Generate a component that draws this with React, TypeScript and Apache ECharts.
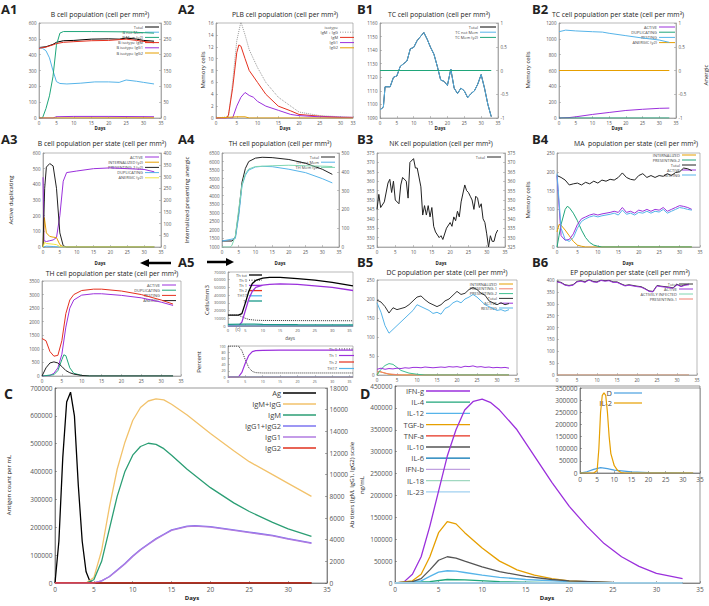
import React, { useEffect, useRef } from "react";
import * as echarts from "echarts";

type P = [number, number][];

// ---------- A1 B cell population ----------
const a1Total: P = [[0,445],[2,450],[4,465],[5,478],[7,488],[10,490],[15,498],[20,500],[23,498],[25,505],[28,498],[30,490],[33,485]];
const a1NotMem: P = [[0,445],[1,440],[2,425],[3,380],[4,300],[5,230],[6,218],[8,215],[12,220],[16,228],[20,228],[23,225],[25,240],[28,232],[30,225],[33,215]];
const a1Mem: P = [[0,0],[1,0],[2,30],[3,70],[4,130],[5,230],[6,268],[7,273],[15,273],[25,272],[33,268]];
const a1IgM: P = [[0,440],[2,448],[4,462],[5,470],[7,478],[10,482],[15,488],[20,490],[25,498],[28,490],[33,475]];
const a1IgG1: P = [[0,0],[4,0],[5,8],[10,10],[20,10],[33,8]];
const a1IgG2: P = [[0,0],[33,1]];

// ---------- A2 PLB ----------
const a2Sum: P = [[0,0],[3,0.2],[4,6],[5,13],[6,16.2],[7,14],[8,11.5],[10,8.5],[12,6],[15,3.5],[18,2],[20,1],[25,0.4],[30,0.2],[33,0.1]];
const a2IgM: P = [[0,0],[2.5,0],[3,0.5],[4,5],[5,11],[5.5,12.3],[6,12.1],[7,10],[8,8],[10,6],[12,4],[15,2],[18,1.2],[20,0.6],[25,0.3],[30,0.1],[33,0.1]];
const a2IgG1: P = [[0,0],[4,0],[5,2],[6,3.5],[7,4.3],[8,3.8],[9,3.5],[10,2.8],[12,2],[15,1.3],[18,0.6],[20,0.4],[25,0.2],[33,0.1]];
const a2IgG2: P = [[0,0],[5,0.2],[7,0.2],[8,0],[33,0]];

// ---------- B1 TC ----------
const b1Days = [0,1,1.5,3,4,5,6,7,8,9,10,11,12,13,14,15,16,17,18,19,20,21,22,23,24,25,26,27,28,29,30,31,32,33];
const b1NotMem = [1096,1098,1113,1113,1120,1121,1128,1130,1132,1141,1142,1147,1150,1153,1148,1142,1137,1128,1118,1117,1114,1126,1112,1108,1112,1110,1105,1108,1110,1115,1122,1112,1100,1091];
const b1Mem: P = [[0,0],[33,0]];

// ---------- B2 TC per state ----------
const b2Active: P = [[0,0],[3,5],[5,15],[10,45],[15,70],[20,95],[25,110],[30,122],[33,125]];
const b2Dup: P = [[0,0],[33,0]];
const b2Resting: P = [[0,1090],[2,1110],[5,1100],[10,1090],[13,1085],[15,1070],[20,1040],[25,1010],[30,985],[33,955]];
const b2Anergic: P = [[0,0],[33,0]];

// ---------- A3 B cell per state ----------
const a3Active: P = [[0,445],[0.3,40],[1,35],[2,40],[3,45],[4,60],[5,200],[6,420],[7,475],[10,485],[15,500],[20,505],[25,500],[30,495],[33,480]];
const a3Intern: P = [[0,0],[0.4,125],[1,60],[2,45],[3,42],[4,40],[5,10],[6,0],[33,0]];
const a3Present: P = [[0,0],[0.5,250],[1,340],[2,355],[3,345],[4,250],[5,60],[6,5],[7,0],[33,0]];
const a3Dup: P = [[0,0],[1,5],[3,3],[5,0],[33,0]];
const a3Anergic: P = [[0,0],[0.5,20],[1,15],[3,12],[4,10],[5,2],[6,0],[33,0]];

// ---------- A4 TH ----------
const a4Total: P = [[0,1350],[3,1350],[4,1600],[5,3000],[6,4800],[7,5600],[8,6000],[10,6200],[12,6250],[15,6230],[20,6120],[25,5900],[30,5550],[33,5250]];
const a4NotMem: P = [[0,1350],[4,1500],[5,2800],[6,4600],[7,5200],[8,5500],[10,5680],[12,5720],[15,5700],[20,5550],[25,5350],[30,5000],[33,4750]];
const a4Mem: P = [[0,0],[2.5,0],[3,10],[4,60],[5,200],[6,330],[7,390],[8,415],[10,428],[15,432],[20,435],[25,432],[30,430],[33,428]];

// ---------- B3 NK ----------
const b3Days = [0,0.5,1,2,3,3.5,4,4.5,5,6,6.5,7,8,8.5,9,10,10.5,11,12,12.5,13,13.5,14,14.5,15,15.5,16,17,17.5,18,19,20,20.5,21,21.5,22,22.5,23,24,24.5,25,25.5,26,26.5,27,27.5,28,28.5,29,29.5,30,30.5,31,31.5,32,32.5,33];
const b3Total = [345,353,346,349,359,361,354,360,350,348,358,362,360,351,370,372,367,367,357,342,347,342,347,341,346,336,333,330,331,329,335,338,336,341,339,344,341,349,358,355,354,352,350,345,352,351,346,348,340,338,332,325,331,328,328,332,334];

// ---------- B4 MA ----------
const b4Days = [0,1,2,3,4,5,6,7,8,9,10,11,12,13,14,15,16,17,18,19,20,21,22,23,24,25,26,27,28,29,30,31,32,33];
const b4Total = [190,185,178,165,168,170,165,172,168,175,170,178,175,180,178,185,197,185,180,178,190,195,185,190,185,190,188,195,190,198,200,210,208,203];
const b4Active = [190,30,18,20,35,60,75,80,85,88,85,88,90,92,95,92,105,92,95,90,98,95,100,95,100,98,105,95,100,105,110,108,105,100];
const b4Resting = [195,50,20,15,25,50,68,75,80,83,80,83,85,87,90,85,98,87,90,85,92,90,95,90,95,93,100,90,95,100,105,103,100,98];
const b4Intern: P = [[0,40],[0.5,60],[1,58],[2,45],[3,30],[4,15],[5,5],[6,2],[7,0],[33,0]];
const b4Present2: P = [[0,0],[0.5,30],[1,60],[2,100],[2.5,108],[3,105],[4,90],[5,70],[6,45],[7,25],[8,12],[9,5],[10,2],[11,0],[33,0]];

// ---------- TH per state ----------
const thResting: P = [[0,1380],[1,1300],[2,900],[3,730],[4,760],[5,1300],[6,2300],[7,2800],[8,3000],[10,3150],[13,3200],[15,3200],[20,3130],[25,3000],[30,2800],[33,2650]];
const thActive: P = [[0,0],[2,20],[3,100],[4,300],[5,800],[6,1800],[7,2500],[8,2800],[10,2980],[13,3030],[15,3030],[20,2970],[25,2880],[30,2720],[33,2600]];
const thDup: P = [[0,0],[3,50],[4,200],[5,600],[5.5,780],[6,750],[7,300],[8,100],[10,20],[12,0],[33,0]];
const thAnergic: P = [[0,0],[1,300],[2,480],[3,520],[4,480],[5,350],[6,200],[7,120],[8,70],[10,20],[12,0],[33,0]];

// ---------- A5 ----------
const a5Tot: P = [[0,14000],[3,14000],[4,16000],[5,30000],[6,45000],[7,55000],[8,59000],[10,62000],[12,63000],[15,63000],[20,61500],[25,59500],[30,56500],[36,52000]];
const a5Th0: P = [[0,14000],[3,14000],[4,12000],[5,10000],[6,8500],[8,7500],[10,7200],[20,7000],[36,6800]];
const a5Th1: P = [[0,0],[3,0],[4,5000],[5,20000],[6,35000],[7,45000],[8,50000],[10,53000],[12,54000],[15,54500],[20,54000],[25,52000],[30,50000],[36,46000]];
const a5Th2: P = [[0,0],[36,0]];
const a5Th17: P = [[0,0],[36,0]];
const a5Tr: P = [[0,2000],[5,2500],[10,2200],[20,1800],[36,1500]];
const a5PctTh0: P = [[0,100],[3,100],[4,85],[5,55],[6,30],[7,18],[8,14],[10,13],[15,13],[36,13]];
const a5PctTh1: P = [[0,0],[3,0],[4,15],[5,45],[6,70],[7,82],[8,85],[10,86],[15,87],[36,87]];
const a5PctTh2: P = [[0,0],[36,0]];
const a5PctTh17: P = [[0,0],[36,0]];

// ---------- B5 DC ----------
const b5Days = [0,1,2,3,4,5,6,7,8,9,10,11,12,13,14,15,16,17,18,19,20,21,22,23,24,25,26,27,28,29,30,31,32,33];
const b5Total = [197,192,180,163,177,172,175,178,185,195,205,208,198,190,185,180,185,195,200,210,220,212,215,225,230,225,215,210,195,190,185,190,185,188];
const b5Resting = [190,165,130,110,120,130,140,150,160,170,185,180,175,170,162,165,160,175,180,190,195,190,200,205,212,205,195,185,180,175,170,172,168,172];
const b5Active = [15,18,15,17,16,18,17,19,18,20,20,19,21,20,19,20,21,20,22,21,22,20,23,22,24,21,22,20,21,19,20,19,20,18];
const b5Present2: P = [[0,0],[1,15],[2,25],[3,30],[4,28],[5,20],[6,12],[8,5],[10,2],[12,0],[33,0]];
const b5Present1: P = [[0,10],[1,8],[2,5],[3,3],[4,2],[6,0],[33,0]];
const b5Intern: P = [[0,0],[0.5,10],[1,8],[2,5],[3,2],[4,1],[5,0],[33,0]];

// ---------- B6 EP ----------
const b6Days = [0,1,2,3,4,5,6,7,8,9,10,11,12,13,14,15,16,17,18,19,20,21,22,23,24,25,26,27,28,29,30,31,32,33];
const b6Active = [392,388,378,375,378,392,395,390,400,392,390,398,395,397,390,390,382,375,378,375,372,370,362,352,350,375,372,370,368,365,380,372,378,380];
const b6Infected: P = [[0,0],[33,0]];
const b6Present1: P = [[0,0],[33,0]];

// ---------- C antigen / antibodies ----------
const cAg: P = [[0,0],[0.5,150000],[1,450000],[1.5,650000],[2,685000],[2.5,600000],[3,350000],[3.5,150000],[4,40000],[4.5,5000],[5,0],[33,0]];
const cIgMIgG: P = [[0,0],[4,0],[5,500],[6,3000],[7,7000],[8,10500],[9,13000],[10,15000],[11,16200],[12,16800],[13,17000],[14,16900],[15,16500],[17,15500],[20,13800],[23,12200],[25,11200],[28,10000],[30,9200],[33,8000]];
const cIgM: P = [[0,0],[4,0],[5,300],[6,2000],[7,5000],[8,8000],[9,10300],[10,11800],[11,12600],[12,12900],[13,12800],[14,12400],[15,11800],[17,10500],[20,8800],[23,7400],[25,6600],[28,5600],[30,5000],[33,4300]];
const cIgG12: P = [[0,0],[5,0],[6,200],[7,600],[8,1200],[9,1800],[10,2500],[11,3100],[12,3600],[13,4100],[14,4500],[15,4900],[17,5250],[18,5300],[20,5200],[23,4900],[25,4700],[28,4400],[30,4100],[33,3700]];
const cIgG1: P = [[0,0],[5,0],[6,190],[7,580],[8,1150],[9,1750],[10,2450],[11,3050],[12,3550],[13,4050],[14,4450],[15,4850],[17,5200],[18,5250],[20,5150],[23,4850],[25,4650],[28,4350],[30,4050],[33,3650]];
const cIgG2: P = [[0,0],[33,0]];

// ---------- D cytokines ----------
const dIFNg: P = [[0,0],[1,2000],[2,20000],[3,60000],[4,130000],[5,210000],[6,290000],[7,350000],[8,395000],[9,415000],[10,420000],[11,412000],[12,395000],[14,350000],[16,290000],[18,230000],[20,175000],[22,130000],[24,90000],[26,60000],[28,38000],[30,22000],[33,10000]];
const dIL4: P = [[0,0],[4,3000],[6,8000],[8,7000],[12,3000],[20,500],[33,0]];
const dIL12: P = [[0,0],[3,5000],[4,15000],[5,25000],[6,28000],[7,27000],[8,24000],[10,18000],[12,13000],[15,8000],[20,3000],[25,1000],[33,0]];
const dTGFb: P = [[0,0],[2,5000],[3,20000],[4,60000],[5,115000],[6,140000],[7,135000],[8,115000],[10,80000],[12,50000],[14,30000],[16,18000],[18,10000],[20,5000],[25,1000],[33,0]];
const dTNFa: P = [[0,0],[33,0]];
const dIL10: P = [[0,0],[2,3000],[3,10000],[4,30000],[5,52000],[6,60000],[7,57000],[8,50000],[10,37000],[12,26000],[15,15000],[18,8000],[20,5000],[25,1500],[33,0]];
const dIL6: P = [[0,0],[33,0]];
const dIFNb: P = [[0,0],[33,0]];
const dIL18: P = [[0,0],[33,0]];
const dIL23: P = [[0,0],[33,0]];
const dInsetD: P = [[0,0],[2,5000],[4,15000],[6,22000],[8,18000],[10,12000],[15,5000],[20,2000],[33,0]];
const dInsetIL2: P = [[0,0],[4,0],[5,10000],[5.5,100000],[6,250000],[6.5,320000],[7,330000],[7.5,320000],[8,250000],[8.5,150000],[9,80000],[10,30000],[11,10000],[12,2000],[13,0],[33,0]];

const zip = (xs: number[], ys: number[]): P => xs.map((x, i) => [x, ys[i]]);

const PURPLE = "#9b30dc";
const GREEN = "#1fa67a";
const LBLUE = "#56b4e9";
const ORANGE = "#e69f00";
const YELLOW = "#f0e442";
const RED = "#e5301e";
const BLACK = "#000000";
const FF = "'Open Sans', 'Liberation Sans', sans-serif";

type S = { name: string; data: P; color: string; y2?: boolean; dash?: boolean; w?: number; hideLeg?: boolean };
type Leg = { x: number; y: number; lh: number; fs: number; len: number; head?: string };
type Panel = {
  l: number; t: number; r: number; b: number;
  x: [number, number, number]; y: [number, number, number]; y2?: [number, number, number];
  fs?: number; series: S[]; leg?: Leg; bg?: string; axisColor?: string;
};

function buildOption() {
  const grids: any[] = [], xAxes: any[] = [], yAxes: any[] = [], series: any[] = [], g: any[] = [];
  const fmt = (v: number) => String(Math.round(v * 100) / 100);

  const addPanel = (p: Panel) => {
    const gi = grids.length;
    const fs = p.fs ?? 4.5;
    const ac = p.axisColor ?? "#8a8a8a";
    grids.push({ left: p.l, top: p.t, width: p.r - p.l, height: p.b - p.t, show: true, borderColor: ac, borderWidth: 0.6, backgroundColor: p.bg ?? "transparent", containLabel: false });
    const axisCommon = {
      axisLine: { show: true, onZero: false, lineStyle: { color: ac, width: 0.6 } },
      axisTick: { show: true, inside: true, length: 2, lineStyle: { color: ac, width: 0.5 } },
      splitLine: { show: false },
      axisLabel: { fontSize: fs, color: "#555", margin: 2.5, fontFamily: FF, formatter: fmt },
    };
    xAxes.push({ gridIndex: gi, type: "value", min: p.x[0], max: p.x[1], interval: p.x[2], ...axisCommon });
    const yi = yAxes.length;
    yAxes.push({ gridIndex: gi, type: "value", position: "left", min: p.y[0], max: p.y[1], interval: p.y[2], ...axisCommon });
    let y2i = yi;
    if (p.y2) {
      y2i = yAxes.length;
      yAxes.push({ gridIndex: gi, type: "value", position: "right", min: p.y2[0], max: p.y2[1], interval: p.y2[2], ...axisCommon });
    }
    p.series.forEach((s) => {
      series.push({
        type: "line", name: s.name, xAxisIndex: gi, yAxisIndex: s.y2 ? y2i : yi, data: s.data,
        showSymbol: false, symbol: "none", silent: true,
        lineStyle: { color: s.color, width: s.w ?? 1, type: s.dash ? "dotted" : "solid" },
        itemStyle: { color: s.color },
      });
    });
    if (p.leg) {
      const L = p.leg;
      let row = 0;
      if (L.head) {
        g.push({ type: "text", x: L.x, y: L.y, style: { text: L.head, fontSize: L.fs, fill: "#444", fontFamily: FF, align: "right", verticalAlign: "middle", textAlign: "right", textVerticalAlign: "middle" } });
        row = 1;
      }
      p.series.filter((s) => !s.hideLeg).forEach((s) => {
        const y = L.y + row * L.lh;
        row++;
        g.push({ type: "text", x: L.x, y, style: { text: s.name, fontSize: L.fs, fill: "#444", fontFamily: FF, align: "right", verticalAlign: "middle", textAlign: "right", textVerticalAlign: "middle" } });
        g.push({ type: "line", shape: { x1: L.x + 2, y1: y, x2: L.x + 2 + L.len, y2: y }, style: { stroke: s.color, lineWidth: s.w ?? 1, lineDash: s.dash ? [1, 1.5] : null } });
      });
    }
  };

  const text = (x: number, y: number, t: string, fs: number, opts: any = {}) => {
    g.push({
      type: "text", x, y, rotation: opts.rot ?? 0,
      style: { text: t, fontSize: fs, fill: opts.fill ?? "#222", fontWeight: opts.bold ? "bold" : "normal", fontFamily: opts.ff ?? FF,
        align: opts.align ?? "center", verticalAlign: "middle", textAlign: opts.align ?? "center", textVerticalAlign: "middle" },
    });
  };

  // Row 1
  addPanel({ l: 39, t: 23, r: 161, b: 118, x: [0, 35, 5], y: [0, 600, 100], y2: [0, 300, 50], series: [
    { name: "Total", data: a1Total, color: BLACK },
    { name: "B not Mem", data: a1NotMem, color: LBLUE },
    { name: "B Mem (y2)", data: a1Mem, color: GREEN, y2: true },
    { name: "B isotype IgM", data: a1IgM, color: RED },
    { name: "B isotype IgG1", data: a1IgG1, color: PURPLE },
    { name: "B isotype IgG2", data: a1IgG2, color: ORANGE },
  ], leg: { x: 143, y: 27, lh: 5.2, fs: 4, len: 14 } });
  addPanel({ l: 216, t: 23, r: 353, b: 118, x: [0, 33, 5], y: [0, 16, 2], series: [
    { name: "IgM + IgG", data: a2Sum, color: "#999", dash: true },
    { name: "IgM", data: a2IgM, color: RED },
    { name: "IgG1", data: a2IgG1, color: PURPLE },
    { name: "IgG2", data: a2IgG2, color: ORANGE },
  ], leg: { x: 338, y: 27, lh: 5.2, fs: 4, len: 14, head: "isotype" } });
  addPanel({ l: 380, t: 23, r: 498, b: 118, x: [0, 35, 5], y: [1090, 1160, 10], y2: [-1, 1, 0.5], series: [
    { name: "Total", data: zip(b1Days, b1NotMem), color: BLACK },
    { name: "TC not Mem", data: zip(b1Days, b1NotMem), color: LBLUE },
    { name: "TC Mem (y2)", data: b1Mem, color: GREEN, y2: true },
  ], leg: { x: 478, y: 27, lh: 5.2, fs: 4, len: 16 } });
  addPanel({ l: 559, t: 23, r: 676, b: 118, x: [0, 35, 5], y: [0, 1200, 200], y2: [-1, 1, 0.5], series: [
    { name: "ACTIVE", data: b2Active, color: PURPLE },
    { name: "DUPLICATING", data: b2Dup, color: GREEN },
    { name: "RESTING", data: b2Resting, color: LBLUE },
    { name: "ANERGIC (y2)", data: b2Anergic, color: ORANGE, y2: true },
  ], leg: { x: 657, y: 27, lh: 5.2, fs: 4, len: 16 } });

  // Row 2
  addPanel({ l: 43, t: 153, r: 161, b: 247, x: [0, 35, 5], y: [0, 600, 100], y2: [0, 400, 50], series: [
    { name: "ACTIVE", data: a3Active, color: PURPLE },
    { name: "INTERNALIZED (y2)", data: a3Intern, color: ORANGE, y2: true },
    { name: "PRESENTING-2 (y2)", data: a3Present, color: "#222", y2: true },
    { name: "DUPLICATING", data: a3Dup, color: LBLUE },
    { name: "ANERGIC (y2)", data: a3Anergic, color: YELLOW, y2: true },
  ], leg: { x: 143, y: 157, lh: 5.2, fs: 4, len: 14 } });
  addPanel({ l: 222, t: 153, r: 339, b: 247, x: [0, 35, 5], y: [1000, 6500, 500], y2: [0, 500, 100], series: [
    { name: "Total", data: a4Total, color: "#222" },
    { name: "TH not Mem", data: a4NotMem, color: LBLUE },
    { name: "TH Mem (y2)", data: a4Mem, color: "#7fd6b0", y2: true },
  ], leg: { x: 319, y: 157, lh: 5.2, fs: 4, len: 14 } });
  addPanel({ l: 377, t: 153, r: 505, b: 247, x: [0, 35, 5], y: [325, 375, 5], y2: [325, 375, 5], series: [
    { name: "Total", data: zip(b3Days, b3Total), color: "#222" },
  ], leg: { x: 485, y: 157, lh: 5.2, fs: 4, len: 14 } });
  addPanel({ l: 557, t: 153, r: 700, b: 247, x: [0, 35, 5], y: [0, 250, 50], series: [
    { name: "INTERNALIZED", data: b4Intern, color: ORANGE },
    { name: "PRESENTING-2", data: b4Present2, color: GREEN },
    { name: "Total", data: zip(b4Days, b4Total), color: "#222" },
    { name: "ACTIVE", data: zip(b4Days, b4Active), color: PURPLE },
    { name: "RESTING", data: zip(b4Days, b4Resting), color: LBLUE },
  ], leg: { x: 680, y: 155, lh: 5, fs: 4, len: 14 } });

  // Row 3
  addPanel({ l: 42, t: 281, r: 181, b: 376, x: [0, 35, 5], y: [0, 3500, 500], series: [
    { name: "ACTIVE", data: thActive, color: PURPLE },
    { name: "DUPLICATING", data: thDup, color: GREEN },
    { name: "RESTING", data: thResting, color: RED },
    { name: "ANERGIC", data: thAnergic, color: "#222" },
  ], leg: { x: 160, y: 285, lh: 5.2, fs: 4, len: 14 } });
  addPanel({ l: 228, t: 272, r: 353, b: 326, x: [0, 36, 5], y: [0, 70000, 10000], fs: 4, series: [
    { name: "Th tot", data: a5Tot, color: BLACK, w: 1.3 },
    { name: "Th 0", data: a5Th0, color: "#333", dash: true },
    { name: "Th 1", data: a5Th1, color: PURPLE, w: 1.3 },
    { name: "Th 2", data: a5Th2, color: RED, w: 1.3 },
    { name: "TH17", data: a5Th17, color: LBLUE, w: 1.3 },
    { name: "Tr", data: a5Tr, color: "#1a9a8a", w: 1.3 },
  ], leg: { x: 247, y: 275, lh: 5.2, fs: 4, len: 13 } });
  addPanel({ l: 228, t: 346, r: 353, b: 377, x: [0, 36, 5], y: [0, 100, 20], fs: 3.5, series: [
    { name: "Th 0", data: a5PctTh0, color: "#333", dash: true },
    { name: "Th 1", data: a5PctTh1, color: PURPLE, w: 1.2 },
    { name: "Th 2", data: a5PctTh2, color: RED, w: 1.2 },
    { name: "TH17", data: a5PctTh17, color: LBLUE, w: 1.2 },
  ], leg: { x: 337, y: 349, lh: 6.5, fs: 4, len: 15 } });
  addPanel({ l: 377, t: 280, r: 517, b: 375, x: [0, 35, 5], y: [0, 250, 50], series: [
    { name: "INTERNALIZED", data: b5Intern, color: ORANGE },
    { name: "PRESENTING-1", data: b5Present1, color: "#f08070" },
    { name: "PRESENTING-2", data: b5Present2, color: "#3fbf90" },
    { name: "Total", data: zip(b5Days, b5Total), color: "#333" },
    { name: "ACTIVE", data: zip(b5Days, b5Active), color: PURPLE },
    { name: "RESTING", data: zip(b5Days, b5Resting), color: LBLUE },
  ], leg: { x: 497, y: 284, lh: 4.8, fs: 4, len: 14 } });
  addPanel({ l: 557, t: 280, r: 697, b: 375, x: [0, 35, 5], y: [0, 400, 50], series: [
    { name: "Total", data: zip(b6Days, b6Active.map((v) => v + 2)), color: "#333" },
    { name: "ACTIVE", data: zip(b6Days, b6Active), color: PURPLE },
    { name: "ACTIVELY INFECTED", data: b6Infected, color: "#7fd6b0" },
    { name: "PRESENTING-1", data: b6Present1, color: "#f08070" },
  ], leg: { x: 677, y: 284, lh: 5, fs: 4, len: 14 } });

  // C
  addPanel({ l: 55, t: 388, r: 327, b: 583, x: [0, 35, 5], y: [0, 700000, 100000], y2: [0, 18000, 2000], fs: 6.5, axisColor: "#555", series: [
    { name: "Ag", data: cAg, color: BLACK, w: 1.3 },
    { name: "IgM+IgG", data: cIgMIgG, color: "#f2c26b", y2: true, w: 1.3 },
    { name: "IgM", data: cIgM, color: "#2b9e74", y2: true, w: 1.3 },
    { name: "IgG1+IgG2", data: cIgG12, color: "#7d74f0", y2: true, w: 1.3 },
    { name: "IgG1", data: cIgG1, color: "#b07be0", y2: true, w: 1.3 },
    { name: "IgG2", data: cIgG2, color: "#e0301e", y2: true, w: 1.3 },
  ], leg: { x: 281, y: 393, lh: 11, fs: 7.5, len: 33 } });
  // D main
  addPanel({ l: 395, t: 386, r: 700, b: 583, x: [0, 35, 5], y: [0, 450000, 50000], fs: 6.5, axisColor: "#555", series: [
    { name: "IFN-g", data: dIFNg, color: PURPLE, w: 1.3 },
    { name: "IL-4", data: dIL4, color: GREEN, w: 1.3 },
    { name: "IL-12", data: dIL12, color: LBLUE, w: 1.3 },
    { name: "TGF-b", data: dTGFb, color: ORANGE, w: 1.3 },
    { name: "TNF-a", data: dTNFa, color: RED, w: 1.3 },
    { name: "IL-10", data: dIL10, color: "#555", w: 1.3 },
    { name: "IL-6", data: dIL6, color: "#0072b2", w: 1.3 },
    { name: "IFN-b", data: dIFNb, color: "#c0a0e0", w: 1.3 },
    { name: "IL-18", data: dIL18, color: "#a0d8c0", w: 1.3 },
    { name: "IL-23", data: dIL23, color: "#a0d0f0", w: 1.3 },
  ], leg: { x: 424, y: 391, lh: 11.2, fs: 7.5, len: 44 } });
  // D inset
  addPanel({ l: 580, t: 388, r: 700, b: 473, x: [0, 35, 5], y: [0, 350000, 50000], fs: 6.5, bg: "#ffffff", axisColor: "#555", series: [
    { name: "D", data: dInsetD, color: "#4aa0e0", w: 1.2 },
    { name: "IL-2", data: dInsetIL2, color: ORANGE, w: 1.2 },
  ], leg: { x: 612, y: 393, lh: 10, fs: 7.5, len: 28 } });

  // Panel labels
  const lab = (x: number, y: number, t: string, fs = 13) => text(x, y, t, fs, { bold: true, align: "left" });
  lab(1, 9, "A1"); lab(178, 9, "A2"); lab(357, 9, "B1"); lab(532, 9, "B2");
  lab(1, 139, "A3"); lab(178, 139, "A4"); lab(357, 139, "B3"); lab(532, 139, "B4");
  lab(178, 262, "A5"); lab(357, 262, "B5"); lab(532, 262, "B6");
  lab(4, 393, "C", 14); lab(360, 393, "D", 14);

  // Titles
  text(100, 14, "B cell population (cell per mm³)", 6.8);
  text(285, 14, "PLB cell population (cell per mm³)", 6.8);
  text(439, 14, "TC cell population (cell per mm³)", 6.8);
  text(618, 14, "TC cell population per state (cell per mm³)", 6.8);
  text(102, 143, "B cell population per state (cell per mm³)", 6.8);
  text(280, 143, "TH cell population (cell per mm³)", 6.8);
  text(441, 143, "NK cell population (cell per mm³)", 6.8);
  text(636, 143, "MA  population per state (cell per mm³)", 6.8);
  text(112, 273, "TH cell population per state (cell per mm³)", 6.8);
  text(447, 272, "DC population per state (cell per mm³)", 6.8);
  text(630, 272, "EP population per state (cell per mm³)", 6.8);

  // Days labels
  [100, 285, 440, 617].forEach((x) => text(x, 128, "Days", 4.5, { bold: true }));
  [100, 280, 441, 628].forEach((x) => text(x, 263, "Days", 4.5, { bold: true }));
  text(290, 338, "days", 4.5, { fill: "#444" });
  text(238, 329, "(c)", 4.5, { fill: "#444" });
  text(192, 598, "Days", 6, { bold: true });
  text(547, 598, "Days", 6, { bold: true });

  // Side labels
  text(203, 70, "Memory cells", 6, { rot: Math.PI / 2 });
  text(528, 70, "Memory cells", 6, { rot: Math.PI / 2 });
  text(706, 75, "Anergic", 6, { rot: Math.PI / 2 });
  text(11, 200, "Active duplicating", 6, { rot: Math.PI / 2 });
  text(187, 200, "Internalized presenting anergic", 6, { rot: Math.PI / 2 });
  text(528, 200, "Memory cells", 6, { rot: Math.PI / 2 });
  text(207, 300, "Cells/mm3", 6, { rot: Math.PI / 2 });
  text(199, 362, "Percent", 6, { rot: Math.PI / 2 });
  text(9, 485, "Antigen count per mL", 6, { rot: Math.PI / 2 });
  text(352, 485, "Ab titers (IgM, IgG1, IgG2) scale", 6, { rot: Math.PI / 2 });
  text(362, 485, "ng/mL", 6, { rot: Math.PI / 2 });

  // Arrows
  g.push({ type: "line", shape: { x1: 148, y1: 263, x2: 171, y2: 263 }, style: { stroke: "#000", lineWidth: 2.5 } });
  g.push({ type: "polygon", shape: { points: [[140, 263], [149, 259], [149, 267]] }, style: { fill: "#000" } });
  g.push({ type: "line", shape: { x1: 207, y1: 262, x2: 227, y2: 262 }, style: { stroke: "#000", lineWidth: 2.5 } });
  g.push({ type: "polygon", shape: { points: [[234, 262], [226, 258], [226, 266]] }, style: { fill: "#000" } });

  return {
    animation: false,
    backgroundColor: "#ffffff",
    grid: grids,
    xAxis: xAxes,
    yAxis: yAxes,
    series,
    graphic: { elements: g },
  };
}

export default function App() {
  const ref = useRef<HTMLDivElement>(null);
  useEffect(() => {
    if (!ref.current) return;
    const chart = echarts.init(ref.current, undefined, { renderer: "svg" });
    chart.setOption(buildOption() as any);
    return () => chart.dispose();
  }, []);
  return <div ref={ref} style={{ position: "fixed", left: 0, top: 0, width: 709, height: 606 }} />;
}
